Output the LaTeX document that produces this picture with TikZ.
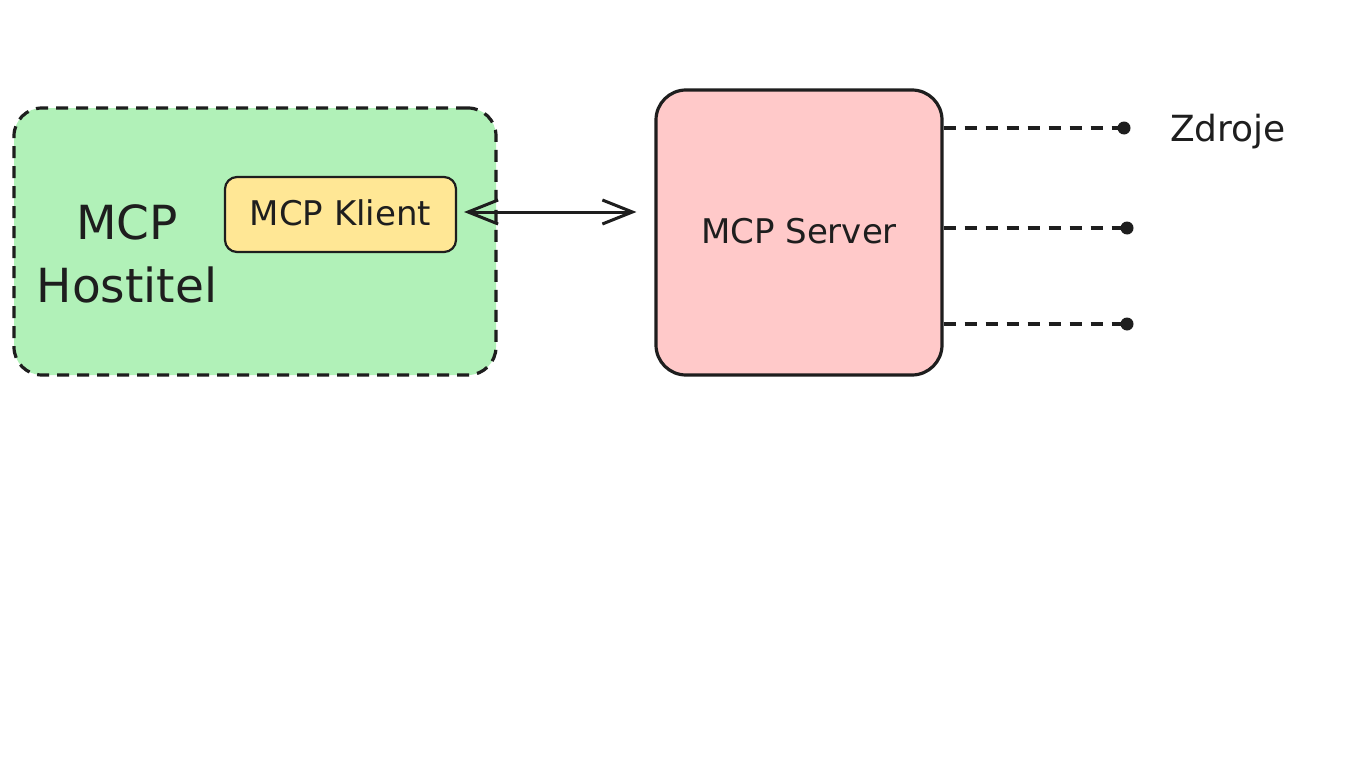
\documentclass[tikz,border=0pt]{standalone}
\usepackage{fontspec}
\setmainfont{DejaVu Sans}
\usetikzlibrary{arrows.meta}
\definecolor{hostgreen}{HTML}{B1F1B8}
\definecolor{clientyellow}{HTML}{FFE795}
\definecolor{serverpink}{HTML}{FFC9C9}
\definecolor{ink}{HTML}{1E1E1E}
\tikzset{
  boxbase/.style={draw=ink, line width=3.2pt, inner sep=0pt},
  hostbox/.style={boxbase, fill=hostgreen, dash pattern=on 12pt off 8pt, rounded corners=28pt, minimum width=482pt, minimum height=267pt},
  clientbox/.style={boxbase, line width=2.2pt, fill=clientyellow, rounded corners=12pt, minimum width=231pt, minimum height=75pt},
  serverbox/.style={boxbase, fill=serverpink, rounded corners=30pt, minimum width=286pt, minimum height=285pt},
  enddot/.style={circle, fill=ink, inner sep=0pt, minimum size=13pt},
  label/.style={text=ink, inner sep=0pt},
  resline/.style={draw=ink, line width=3.2pt, dash pattern=on 12pt off 9pt},
  link/.style={draw=ink, line width=3pt, {Straight Barb[length=30pt,width=24pt,line width=3pt]}-{Straight Barb[length=30pt,width=24pt,line width=3pt]}}
}
\begin{document}
\begin{tikzpicture}[x=1pt,y=-1pt]
\useasboundingbox[fill=white] (0,0) rectangle (1365,768);
\node[hostbox] (host) at (255,241.5) {};
\node[label, font=\fontsize{47}{63}\selectfont, align=center] (hostlabel) at (127,254) {MCP\\Hostitel};
\node[clientbox] (klient) at (340.5,214.5) {};
\node[label, font=\fontsize{34}{40}\selectfont] (klientlabel) at (340.5,213) {MCP Klient};
\node[serverbox] (server) at (799,232.5) {};
\node[label, font=\fontsize{34}{40}\selectfont] (serverlabel) at (799,231) {MCP Server};
\node[enddot] (d1) at (1124,128) {};
\node[enddot] (d2) at (1127,228) {};
\node[enddot] (d3) at (1127,324) {};
\node[label, font=\fontsize{36}{42}\selectfont, anchor=base] (zdroje) at (1228,141) {Zdroje};
\draw[link, shorten <=7pt, shorten >=18pt] ([yshift=2.5pt]klient.east) -- ([yshift=2.5pt]klient.east -| server.west);
\draw[resline] (server.east |- d1) -- (d1.center);
\draw[resline] (server.east |- d2) -- (d2.center);
\draw[resline] (server.east |- d3) -- (d3.center);
\end{tikzpicture}
\end{document}
